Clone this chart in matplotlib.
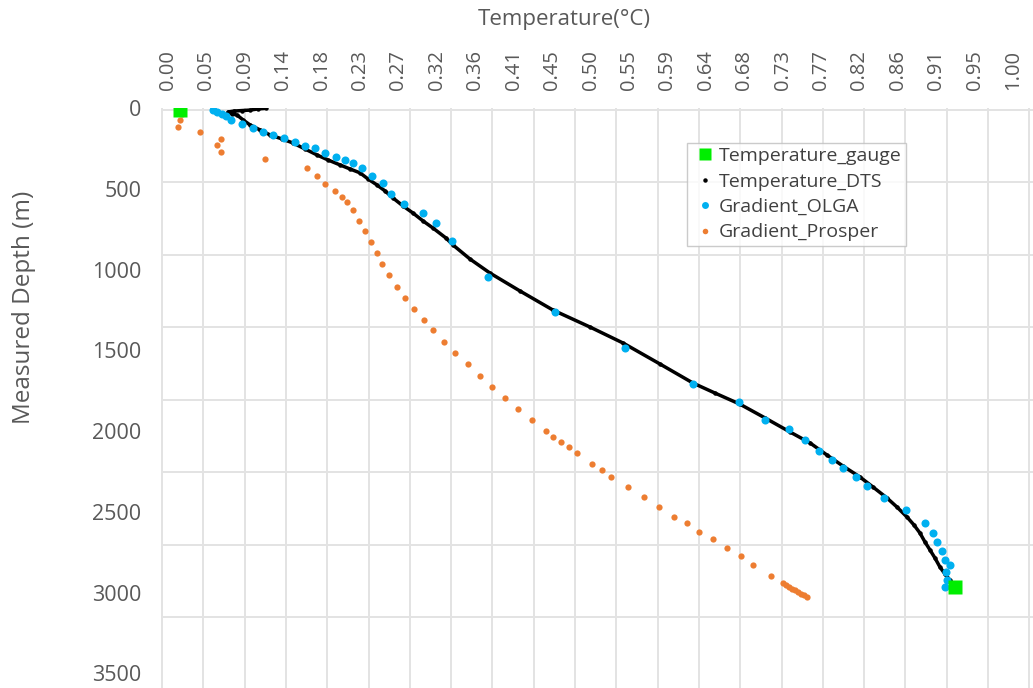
import numpy as np
import matplotlib.pyplot as plt
from matplotlib.lines import Line2D

plt.rcParams["font.family"] = ["Open Sans", "DejaVu Sans"]

# temperature (degC) and measured depth (m) per series
gauge_t = [0.0142, 0.9314]
gauge_d = [11, 2964]

dts_t = [0.1160, 0.1065, 0.0970, 0.0876, 0.0781, 0.0710, 0.0757, 0.0817,
         0.0888, 0.0970, 0.1089, 0.1207, 0.1349, 0.1479, 0.1621, 0.1763,
         0.1893, 0.2036, 0.2154, 0.2272, 0.2367, 0.2473, 0.2568, 0.2663,
         0.2781, 0.2899, 0.3018, 0.3136, 0.3290, 0.3373, 0.3574, 0.3811,
         0.4166, 0.4556, 0.4994, 0.5385, 0.5822, 0.6213, 0.6473, 0.6769,
         0.7065, 0.7361, 0.7598, 0.7799, 0.7988, 0.8189, 0.8343, 0.8509,
         0.8627, 0.8746, 0.8828, 0.8899, 0.8959, 0.9018, 0.9077, 0.9136,
         0.9195, 0.9254, 0.9290]
dts_d = [0, 4, 11, 14, 17, 23, 35, 42,
         72, 103, 134, 165, 190, 215, 252, 289,
         320, 351, 376, 400, 438, 475, 512, 556,
         605, 649, 698, 742, 804, 847, 934, 1021,
         1132, 1250, 1355, 1454, 1584, 1702, 1764, 1833,
         1918, 2005, 2073, 2148, 2216, 2284, 2346, 2414,
         2470, 2532, 2581, 2631, 2687, 2736, 2786, 2842,
         2885, 2922, 2959]

olga_t = [0.0536, 0.0583, 0.0636, 0.0683, 0.0746, 0.0872, 0.1009, 0.1128,
          0.1246, 0.1376, 0.1503, 0.1621, 0.1740, 0.1858, 0.1985, 0.2095,
          0.2193, 0.2292, 0.2418, 0.2548, 0.2639, 0.2797, 0.3021, 0.3168,
          0.3357, 0.3791, 0.4580, 0.5408, 0.6217, 0.6757, 0.7065, 0.7353,
          0.7538, 0.7708, 0.7854, 0.7992, 0.8142, 0.8269, 0.8473, 0.8730,
          0.8959, 0.9057, 0.9104, 0.9156, 0.9195, 0.9254, 0.9207, 0.9215,
          0.9195]
olga_d = [11, 25, 37, 46, 72, 97, 120, 145,
          165, 182, 207, 232, 248, 279, 300, 320,
          341, 368, 419, 465, 533, 595, 650, 712,
          821, 1045, 1260, 1482, 1705, 1818, 1928, 1989,
          2055, 2121, 2179, 2230, 2282, 2340, 2416, 2489,
          2567, 2629, 2685, 2741, 2798, 2829, 2871, 2922,
          2964]

prosper_t = [0.0162, 0.0142, 0.0122, 0.0379, 0.0621, 0.0576, 0.0627, 0.1148,
             0.1641, 0.1760, 0.1858, 0.1976, 0.2056, 0.2115, 0.2193, 0.2260,
             0.2331, 0.2402, 0.2470, 0.2529, 0.2619, 0.2707, 0.2805, 0.2915,
             0.3030, 0.3140, 0.3270, 0.3396, 0.3547, 0.3692, 0.3838, 0.3988,
             0.4146, 0.4311, 0.4473, 0.4560, 0.4651, 0.4746, 0.4837, 0.5021,
             0.5132, 0.5243, 0.5440, 0.5637, 0.5811, 0.5992, 0.6138, 0.6288,
             0.6446, 0.6612, 0.6781, 0.6927, 0.7136, 0.7278, 0.7314, 0.7349,
             0.7385, 0.7420, 0.7456, 0.7491, 0.7527, 0.7562]
prosper_d = [35, 72, 118, 149, 190, 227, 271, 317,
             372, 419, 471, 512, 548, 582, 630, 696,
             760, 826, 898, 965, 1033, 1105, 1173, 1245,
             1311, 1373, 1446, 1514, 1584, 1657, 1725, 1793,
             1863, 1931, 1997, 2034, 2065, 2096, 2134, 2204,
             2241, 2282, 2344, 2410, 2468, 2530, 2571, 2623,
             2670, 2724, 2774, 2827, 2897, 2941, 2953, 2966,
             2978, 2987, 2997, 3009, 3018, 3029]

x_tick_labels = ["0.00", "0.05", "0.09", "0.14", "0.18", "0.23", "0.27", "0.32",
                 "0.36", "0.41", "0.45", "0.50", "0.55", "0.59", "0.64", "0.68",
                 "0.73", "0.77", "0.82", "0.86", "0.91", "0.95", "1.00"]
depth_ticks = [0, 500, 1000, 1500, 2000, 2500, 3000, 3500]

TXT = "#595959"
GRID = "#e3e3e3"

fig = plt.figure(figsize=(10.33, 6.88), dpi=100)
ax = fig.add_axes([0.1559, 0.0, 0.8441, 0.8426])

ax.plot(dts_t, dts_d, color="black", lw=2.5, marker="o", ms=2.2, zorder=3)
ax.plot(olga_t, olga_d, ls="none", marker="o", ms=5.8, color="#00b0f0",
        mec="none", zorder=4)
ax.plot(prosper_t, prosper_d, ls="none", marker="o", ms=4.5, color="#ed7d31",
        mec="none", zorder=4)
ax.plot(gauge_t, gauge_d, ls="none", marker="s", ms=9.5, color="#00ee00",
        mec="none", zorder=5)

ax.set_xlim(-0.0083, 1.0237)
ax.set_ylim(3591, 0)

ax.xaxis.tick_top()
ax.xaxis.set_label_position("top")
ax.set_xticks(np.arange(len(x_tick_labels)) / 22)
ax.set_xticklabels(x_tick_labels, rotation=90)
ax.set_yticks(depth_ticks)

# grid runs on its own spacing, independent of the labelled ticks
ax.set_xticks(-0.0071 + 0.04888 * np.arange(22), minor=True)
ax.set_yticks(10 + 449 * np.arange(8), minor=True)
ax.grid(False)
ax.grid(which="minor", color=GRID, lw=1.4)
ax.set_axisbelow(True)

ax.tick_params(axis="x", which="major", length=0, pad=13, labelsize=14.5,
               labelcolor=TXT)
ax.tick_params(axis="y", which="major", length=0, pad=14, labelsize=15.5,
               labelcolor=TXT)
ax.tick_params(which="minor", length=0)
for s in ax.spines.values():
    s.set_visible(False)

fig.text(0.546, 0.971, "Temperature(°C)", ha="center", va="center",
         fontsize=16, color=TXT)
fig.text(0.023, 0.553, "Measured Depth (m)", ha="center", va="center",
         rotation=90, fontsize=17.5, color=TXT)

handles = [
    Line2D([], [], ls="none", marker="s", ms=8, color="#00ee00", mec="none"),
    Line2D([], [], ls="none", marker="o", ms=2.2, color="black"),
    Line2D([], [], ls="none", marker="o", ms=5, color="#00b0f0", mec="none"),
    Line2D([], [], ls="none", marker="o", ms=4, color="#ed7d31", mec="none"),
]
names = ["Temperature_gauge", "Temperature_DTS", "Gradient_OLGA",
         "Gradient_Prosper"]
leg = ax.legend(handles, names, loc="upper left",
                bbox_to_anchor=(0.6028, 0.9401), borderaxespad=0,
                fontsize=14, frameon=True, fancybox=False,
                handlelength=1.4, handletextpad=0.05, labelspacing=0.38,
                borderpad=0.22)
leg.get_frame().set_edgecolor("#bfbfbf")
leg.get_frame().set_linewidth(1.0)
for t in leg.get_texts():
    t.set_color("#404040")

fig.savefig("out.png", dpi=100)
